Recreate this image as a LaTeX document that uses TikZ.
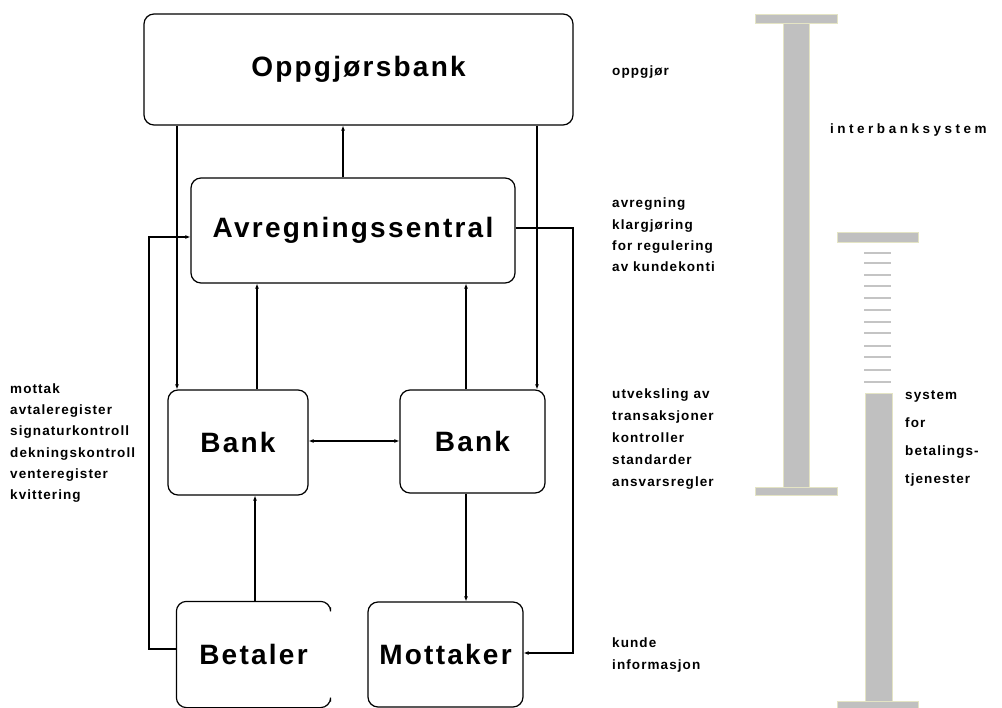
\documentclass[tikz,border=0pt]{standalone}
\usepackage{fontspec}
\setmainfont{Liberation Sans}
\newfontfamily\bigf[LetterSpace=8]{Liberation Sans}
\newfontfamily\smallf[LetterSpace=8]{Liberation Sans}
\newfontfamily\widef[LetterSpace=26]{Liberation Sans}
\usetikzlibrary{arrows.meta,calc}
\definecolor{barfill}{RGB}{192,192,192}
\definecolor{baredge}{RGB}{228,228,196}
\definecolor{dashcol}{RGB}{196,196,196}
\begin{document}
\begin{tikzpicture}[x=1pt,y=-1pt,
  box/.style={draw, line width=1.2pt, rounded corners=10pt, inner sep=0pt,
    font=\bigf\bfseries\fontsize{28}{30}\selectfont},
  conn/.style={line width=1.1pt, -{Latex[length=5pt,width=4pt]}},
  bconn/.style={line width=1.1pt, {Latex[length=5pt,width=4pt]}-{Latex[length=5pt,width=4pt]}},
  lbl/.style={inner sep=0pt, anchor=west, align=left, font=\smallf\bfseries\fontsize{13.5}{21.3}\selectfont},
  bar/.style={fill=barfill, draw=baredge, line width=0.8pt},
  tick/.style={draw=dashcol, line width=2pt}]
\useasboundingbox (0,0) rectangle (1002,708);

% boxes
\node[box, minimum width=429pt, minimum height=111pt] (opp) at (358.5,69.5) {Oppgjørsbank};
\node[box, minimum width=324pt, minimum height=105pt] (avr) at (353,230.5) {Avregningssentral};
\node[box, minimum width=140pt, minimum height=105pt] (bankL) at (238,442.5) {Bank};
\node[box, minimum width=145pt, minimum height=103pt] (bankR) at (472.5,441.5) {Bank};
\node[box, draw=none, minimum width=153pt, minimum height=105pt] (bet) at (253.5,654.5) {Betaler};
\draw[line width=1.2pt, rounded corners=10pt] ($(bet.north east)+(0,6)$) -- (bet.north east) -- (bet.north west) -- (bet.south west) -- (bet.south east) -- ($(bet.south east)+(0,-6)$);
\node[box, minimum width=155pt, minimum height=105pt] (mot) at (445.5,654.5) {Mottaker};

% helper coordinates
\coordinate (xa) at (343,0);
\coordinate (xb) at (177,0);
\coordinate (xc) at (537,0);
\coordinate (xd) at (257,0);
\coordinate (xe) at (466,0);
\coordinate (xf) at (255,0);
\coordinate (yh) at (0,441);
\coordinate (bl1) at (149,649);
\coordinate (bl2) at (149,237);
\coordinate (br1) at (573,228);
\coordinate (br2) at (573,653);

% connectors
\draw[conn] (avr.north -| xa) -- (opp.south -| xa);
\draw[conn] (opp.south -| xb) -- (bankL.north -| xb);
\draw[conn] (opp.south -| xc) -- (bankR.north -| xc);
\draw[conn] (bankL.north -| xd) -- (avr.south -| xd);
\draw[conn] (bankR.north -| xe) -- (avr.south -| xe);
\draw[bconn] (bankL.east |- yh) -- (bankR.west |- yh);
\draw[conn] (bet.north -| xf) -- (bankL.south -| xf);
\draw[conn] (bankR.south -| xe) -- (mot.north -| xe);
\draw[conn] (bet.west |- bl1) -- (bl1) -- (bl2) -- (avr.west |- bl2);
\draw[conn] (avr.east |- br1) -- (br1) -- (br2) -- (mot.east |- br2);

% labels
\node[lbl] (lleft) at (10,443) {mottak\\avtaleregister\\signaturkontroll\\dekningskontroll\\venteregister\\kvittering};
\node[lbl] (loppg) at (612,72) {oppgjør};
\node[lbl] (lavr) at (612,235) {avregning\\klargjøring\\for regulering\\av kundekonti};
\node[lbl, font=\smallf\bfseries\fontsize{13.5}{22}\selectfont] (lutv) at (612,439) {utveksling av\\transaksjoner\\kontroller\\standarder\\ansvarsregler};
\node[lbl, font=\smallf\bfseries\fontsize{13.5}{22}\selectfont] (lkunde) at (612,655) {kunde\\informasjon};
\node[lbl, font=\widef\bfseries\fontsize{13.5}{21}\selectfont] (linter) at (830,130) {interbanksystem};
\node[lbl, font=\smallf\bfseries\fontsize{13.5}{27.7}\selectfont] (lsys) at (905,438.5) {system\\for\\betalings-\\tjenester};

% bars
\draw[bar] (755,14) rectangle (837,23);
\draw[bar] (783,23) rectangle (809,487);
\draw[bar] (755,487) rectangle (837,495);
\draw[bar] (837,232) rectangle (918,242);
\foreach \yy in {253,263,275,286,298,310,322,333,346,357,370,382}
  \draw[tick] (864,\yy) -- (891,\yy);
\draw[bar] (865,393) rectangle (892,701);
\draw[bar] (837,701) rectangle (918,712);
\end{tikzpicture}
\end{document}
